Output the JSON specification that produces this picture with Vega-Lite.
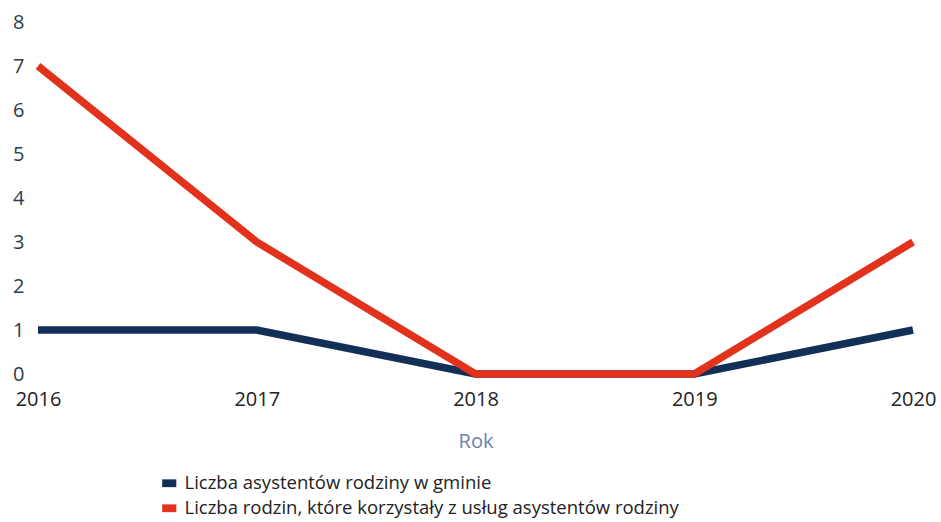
{
  "$schema": "https://vega.github.io/schema/vega-lite/v6.json",
  "autosize": "none",
  "width": 875,
  "height": 352,
  "padding": {"left": 38, "top": 22, "right": 28, "bottom": 148},
  "background": "white",
  "data": {
    "values": [
      {"rok": 2016, "seria": "Liczba asystentów rodziny w gminie", "wartosc": 1},
      {"rok": 2017, "seria": "Liczba asystentów rodziny w gminie", "wartosc": 1},
      {"rok": 2018, "seria": "Liczba asystentów rodziny w gminie", "wartosc": 0},
      {"rok": 2019, "seria": "Liczba asystentów rodziny w gminie", "wartosc": 0},
      {"rok": 2020, "seria": "Liczba asystentów rodziny w gminie", "wartosc": 1},
      {"rok": 2016, "seria": "Liczba rodzin, które korzystały z usług asystentów rodziny", "wartosc": 7},
      {"rok": 2017, "seria": "Liczba rodzin, które korzystały z usług asystentów rodziny", "wartosc": 3},
      {"rok": 2018, "seria": "Liczba rodzin, które korzystały z usług asystentów rodziny", "wartosc": 0},
      {"rok": 2019, "seria": "Liczba rodzin, które korzystały z usług asystentów rodziny", "wartosc": 0},
      {"rok": 2020, "seria": "Liczba rodzin, które korzystały z usług asystentów rodziny", "wartosc": 3}
    ]
  },
  "mark": {"type": "line", "strokeWidth": 7.5, "strokeCap": "butt", "strokeJoin": "miter"},
  "encoding": {
    "x": {
      "field": "rok", "type": "quantitative",
      "scale": {"domain": [2016, 2020], "nice": false, "zero": false},
      "axis": {
        "values": [2016, 2017, 2018, 2019, 2020], "format": "d",
        "title": "Rok", "titleColor": "#6b7fae", "titleFont": "Open Sans", "titleFontWeight": "normal", "titleFontSize": 20, "titlePadding": 22,
        "labelFont": "Open Sans", "labelFontSize": 20, "labelColor": "#222222", "labelPadding": 15,
        "labelFlush": false, "domain": false, "ticks": false, "grid": false
      }
    },
    "y": {
      "field": "wartosc", "type": "quantitative",
      "scale": {"domain": [0, 8], "nice": false},
      "axis": {
        "values": [0, 1, 2, 3, 4, 5, 6, 7, 8], "title": null,
        "labelFont": "Open Sans", "labelFontSize": 20, "labelColor": "#2f3a4a", "labelPadding": 14,
        "domain": false, "ticks": false, "grid": false
      }
    },
    "color": {
      "field": "seria", "type": "nominal",
      "scale": {
        "domain": ["Liczba asystentów rodziny w gminie", "Liczba rodzin, które korzystały z usług asystentów rodziny"],
        "range": ["#112f57", "#e2321c"]
      },
      "legend": {
        "title": null, "orient": "none", "legendX": 122, "legendY": 452,
        "labelFont": "Open Sans", "labelFontSize": 18.5, "labelColor": "#222222", "labelLimit": 800,
        "symbolType": "M-1,-0.55H1V0.55H-1Z", "symbolSize": 200, "rowPadding": 6, "labelOffset": 6,
        "encode": {"symbols": {"update": {"fill": {"scale": "color", "field": "value"}, "strokeWidth": {"value": 0}}}}
      }
    }
  },
  "config": {"view": {"stroke": null}}
}
